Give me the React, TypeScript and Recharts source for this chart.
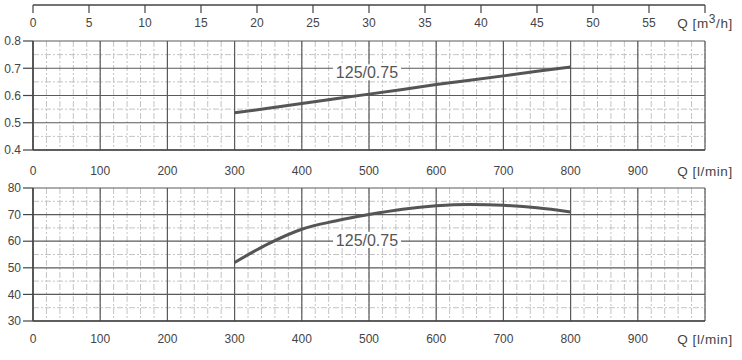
import React from 'react';
import { LineChart, Line, XAxis, YAxis, CartesianGrid, ReferenceDot } from 'recharts';

// ---- data ----
const flowLmin = [300, 350, 400, 450, 500, 550, 600, 650, 700, 750, 800];
const powerKw = [0.537, 0.553, 0.571, 0.588, 0.605, 0.622, 0.64, 0.656, 0.672, 0.689, 0.705];
const efficiencyPct = [52.0, 59.0, 64.5, 67.6, 70.0, 72.0, 73.3, 73.8, 73.5, 72.6, 71.0];

const flowTicks = [0, 100, 200, 300, 400, 500, 600, 700, 800, 900, 1000];
const flowMinorTicks = Array.from({ length: 51 }, (_, i) => i * 20);
const m3hTicks = [0, 5, 10, 15, 20, 25, 30, 35, 40, 45, 50, 55, 60];
const powerTicks = [0.4, 0.5, 0.6, 0.7, 0.8];
const powerMinorTicks = [0.45, 0.55, 0.65, 0.75];
const effTicks = [30, 40, 50, 60, 70, 80];
const effMinorTicks = [35, 45, 55, 65, 75];

const curveName = '125/0.75';
const powerLabelAt = { q: 497, v: 0.685 };
const effLabelAt = { q: 497, v: 60.5 };

const flowUnit = 'Q [l/min]';
const m3hUnitParts = ['Q [m', '3', '/h]'];

const powerData = flowLmin.map((q, i) => ({ q, p: powerKw[i] }));
const effData = flowLmin.map((q, i) => ({ q, e: efficiencyPct[i] }));
const m3hData = m3hTicks.map((m) => ({ m }));

const FONT = '"Liberation Sans", Arial, sans-serif';
const tickStyle = { fontSize: 12, fill: '#444', fontFamily: FONT };
const AXIS = '#444';
const MAJOR = '#5a5a5a';
const MINOR = '#c4c4c4';
const CURVE = '#555';

const CurveLabel = (props: any) => {
  const vb = props.viewBox || {};
  const cx = vb.x + (vb.width || 0) / 2;
  const cy = vb.y + (vb.height || 0) / 2;
  return (
    <g>
      <rect x={cx - 34} y={cy - 8} width={68} height={16} fill="#fff" />
      <text x={cx} y={cy} dy={6} textAnchor="middle" fontSize={16} fontFamily={FONT} fill="#555">
        {curveName}
      </text>
    </g>
  );
};

const FlowTick = (props: any) => {
  const { x, y, payload } = props;
  const isUnit = payload.value === 1000;
  return (
    <text
      x={x}
      y={y}
      dy="0.71em"
      textAnchor="middle"
      fontSize={isUnit ? 13.5 : 12}
      letterSpacing={isUnit ? 0.6 : 0}
      fill="#444"
      fontFamily={FONT}
    >
      {isUnit ? flowUnit : String(payload.value)}
    </text>
  );
};

const M3Tick = (props: any) => {
  const { x, y, payload } = props;
  const isUnit = payload.value === 60;
  if (!isUnit) {
    return (
      <text x={x} y={y} dy="0.71em" textAnchor="middle" fontSize={12} fill="#444" fontFamily={FONT}>
        {String(payload.value)}
      </text>
    );
  }
  return (
    <text x={x} y={y} dy="0.71em" textAnchor="middle" fontSize={13.5} letterSpacing={0.6} fill="#444" fontFamily={FONT}>
      <tspan>{m3hUnitParts[0]}</tspan>
      <tspan dy={-5} fontSize={12}>{m3hUnitParts[1]}</tspan>
      <tspan dy={5}>{m3hUnitParts[2]}</tspan>
    </text>
  );
};

export default function App() {
  return (
    <div
      style={{
        position: 'absolute',
        left: 0,
        top: 0,
        width: 742,
        height: 360,
        background: '#fff',
        fontFamily: FONT,
      }}
    >
      {/* top m3/h axis */}
      <div style={{ position: 'absolute', left: 0, top: 0 }}>
        <LineChart width={742} height={40} data={m3hData} margin={{ top: 0, right: 37, left: 33, bottom: 0 }}>
          <XAxis
            dataKey="m"
            type="number"
            domain={[0, 60]}
            ticks={m3hTicks}
            interval={0}
            height={35}
            tickSize={8}
            tickMargin={5}
            tick={<M3Tick />}
            axisLine={{ stroke: AXIS, strokeWidth: 1.5 }}
            tickLine={{ stroke: AXIS, strokeWidth: 1.2 }}
          />
        </LineChart>
      </div>

      {/* power chart */}
      <div style={{ position: 'absolute', left: 0, top: 0 }}>
        <LineChart width={742} height={180} data={powerData} margin={{ top: 41, right: 37, left: 0, bottom: 0 }}>
          <CartesianGrid
            verticalValues={flowMinorTicks}
            horizontalValues={powerMinorTicks}
            stroke={MINOR}
            strokeDasharray="6 2 2 2"
            strokeWidth={1}
          />
          <CartesianGrid stroke={MAJOR} strokeWidth={1.2} />
          <XAxis
            dataKey="q"
            type="number"
            domain={[0, 1000]}
            ticks={flowTicks}
            interval={0}
            height={30}
            tickSize={0}
            tickMargin={16}
            tick={<FlowTick />}
            axisLine={{ stroke: AXIS, strokeWidth: 1.5 }}
          />
          <YAxis
            type="number"
            domain={[0.4, 0.8]}
            ticks={powerTicks}
            interval={0}
            width={33}
            tickSize={10}
            tickMargin={2}
            tick={tickStyle}
            tickFormatter={(v: number) => v.toFixed(1)}
            axisLine={{ stroke: AXIS, strokeWidth: 1.5 }}
            tickLine={{ stroke: AXIS, strokeWidth: 1.2 }}
          />
          <Line dataKey="p" type="linear" stroke={CURVE} strokeWidth={3} dot={false} isAnimationActive={false} />
          <ReferenceDot
            x={powerLabelAt.q}
            y={powerLabelAt.v}
            r={1}
            fill="none"
            stroke="none"
            label={{ content: CurveLabel }}
          />
        </LineChart>
      </div>

      {/* efficiency chart */}
      <div style={{ position: 'absolute', left: 0, top: 170 }}>
        <LineChart width={742} height={190} data={effData} margin={{ top: 18, right: 37, left: 0, bottom: 9 }}>
          <CartesianGrid
            verticalValues={flowMinorTicks}
            horizontalValues={effMinorTicks}
            stroke={MINOR}
            strokeDasharray="6 2 2 2"
            strokeWidth={1}
          />
          <CartesianGrid stroke={MAJOR} strokeWidth={1.2} />
          <XAxis
            dataKey="q"
            type="number"
            domain={[0, 1000]}
            ticks={flowTicks}
            interval={0}
            height={30}
            tickSize={0}
            tickMargin={13}
            tick={<FlowTick />}
            axisLine={{ stroke: AXIS, strokeWidth: 1.5 }}
          />
          <YAxis
            type="number"
            domain={[30, 80]}
            ticks={effTicks}
            interval={0}
            width={33}
            tickSize={10}
            tickMargin={2}
            tick={tickStyle}
            axisLine={{ stroke: AXIS, strokeWidth: 1.5 }}
            tickLine={{ stroke: AXIS, strokeWidth: 1.2 }}
          />
          <Line dataKey="e" type="monotone" stroke={CURVE} strokeWidth={3} dot={false} isAnimationActive={false} />
          <ReferenceDot
            x={effLabelAt.q}
            y={effLabelAt.v}
            r={1}
            fill="none"
            stroke="none"
            label={{ content: CurveLabel }}
          />
        </LineChart>
      </div>
    </div>
  );
}
